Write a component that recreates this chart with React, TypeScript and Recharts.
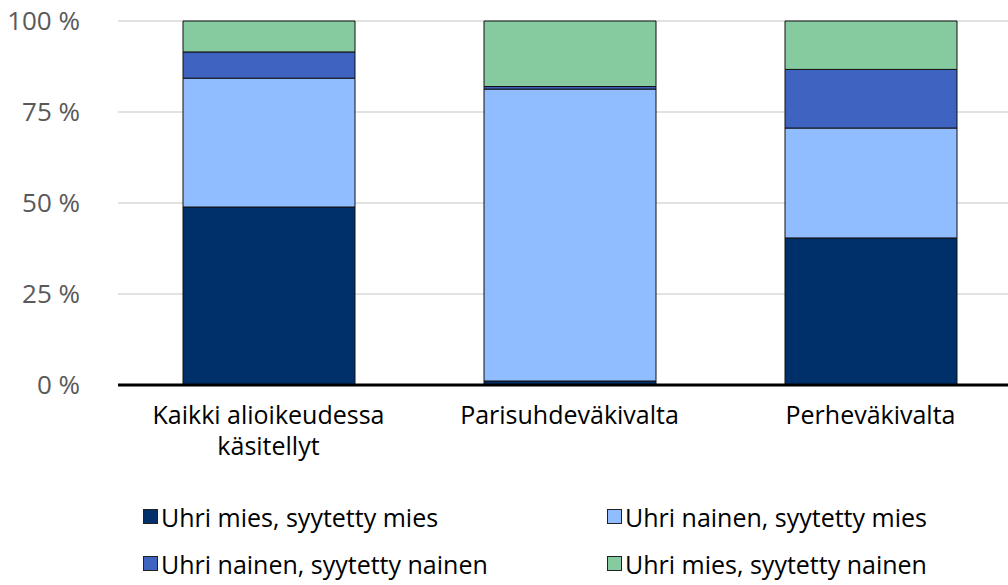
import { BarChart, Bar, XAxis, YAxis, CartesianGrid, Legend } from 'recharts'

const categories = ['Kaikki alioikeudessa käsitellyt', 'Parisuhdeväkivalta', 'Perheväkivalta']
// tick labels as they are wrapped on the axis
const tickLines: Record<string, string[]> = {
    'Kaikki alioikeudessa käsitellyt': ['Kaikki alioikeudessa', 'käsitellyt'],
    'Parisuhdeväkivalta': ['Parisuhdeväkivalta'],
    'Perheväkivalta': ['Perheväkivalta'],
}

// percent shares per category
const miesMies = [48.9, 1.1, 40.4]
const nainenMies = [35.4, 80.2, 30.2]
const nainenNainen = [7.2, 0.7, 16.1]
const miesNainen = [8.5, 18.0, 13.3]

const yTicks = [0, 25, 50, 75, 100]

const SERIES = [
    { key: 'miesMies', name: 'Uhri mies, syytetty mies', color: '#00306a' },
    { key: 'nainenMies', name: 'Uhri nainen, syytetty mies', color: '#8fbdff' },
    { key: 'nainenNainen', name: 'Uhri nainen, syytetty nainen', color: '#3f63c1' },
    { key: 'miesNainen', name: 'Uhri mies, syytetty nainen', color: '#86cba0' },
]

const data = categories.map((name, i) => ({
    name,
    miesMies: miesMies[i],
    nainenMies: nainenMies[i],
    nainenNainen: nainenNainen[i],
    miesNainen: miesNainen[i],
}))

const FONT = '"Open Sans", sans-serif'

function CategoryTick({ x, y, payload }: any) {
    const lines = tickLines[payload.value] || [payload.value]
    return (
        <text x={x} y={y} textAnchor="middle" fontSize={25} fill="#000" fontFamily={FONT}>
            {lines.map((l, i) => (
                <tspan key={i} x={x} dy={i === 0 ? 17 : 31}>
                    {l}
                </tspan>
            ))}
        </text>
    )
}

// legend order: two rows, two columns
const legendOrder = ['miesMies', 'nainenMies', 'nainenNainen', 'miesNainen']

function LegendGrid() {
    return (
        <div
            style={{
                display: 'grid',
                gridTemplateColumns: '464px 400px',
                fontFamily: FONT,
                fontSize: 25,
                color: '#000',
            }}
        >
            {legendOrder.map((k) => {
                const s = SERIES.find((x) => x.key === k)!
                return (
                    <div key={k} style={{ display: 'flex', alignItems: 'center', height: 47, whiteSpace: 'nowrap' }}>
                        <span
                            style={{
                                width: 13,
                                height: 13,
                                background: s.color,
                                border: '1px solid #222',
                                marginRight: 3,
                                display: 'inline-block',
                                flex: 'none',
                            }}
                        />
                        {s.name}
                    </div>
                )
            })}
        </div>
    )
}

export default function App() {
    return (
        <div style={{ position: 'fixed', left: 0, top: 0, width: 1008, height: 585, overflow: 'hidden', background: '#fff' }}>
            <BarChart
                width={1021}
                height={585}
                data={data}
                margin={{ top: 21, right: 0, left: 0, bottom: 120 }}
                barSize={172}
            >
                <CartesianGrid vertical={false} stroke="#d9d9d9" strokeWidth={1.5} />
                <XAxis
                    dataKey="name"
                    height={80}
                    tick={<CategoryTick />}
                    tickLine={false}
                    axisLine={{ stroke: '#000', strokeWidth: 3 }}
                    tickMargin={16}
                    interval={0}
                />
                <YAxis
                    width={118}
                    domain={[0, 100]}
                    ticks={yTicks}
                    tickFormatter={(v) => `${v} %`}
                    tick={{ fontSize: 26, fill: '#595959', fontFamily: FONT }}
                    tickSize={0}
                    tickMargin={38}
                    axisLine={false}
                    tickLine={false}
                />
                <Legend
                    layout="horizontal"
                    verticalAlign="middle"
                    align="center"
                    content={() => <LegendGrid />}
                    wrapperStyle={{ position: 'absolute', left: 143, top: 493, width: 865 }}
                />
                {SERIES.map((s) => (
                    <Bar
                        key={s.key}
                        dataKey={s.key}
                        name={s.name}
                        stackId="a"
                        fill={s.color}
                        stroke="#111"
                        strokeWidth={1}
                        isAnimationActive={false}
                    />
                ))}
            </BarChart>
        </div>
    )
}
